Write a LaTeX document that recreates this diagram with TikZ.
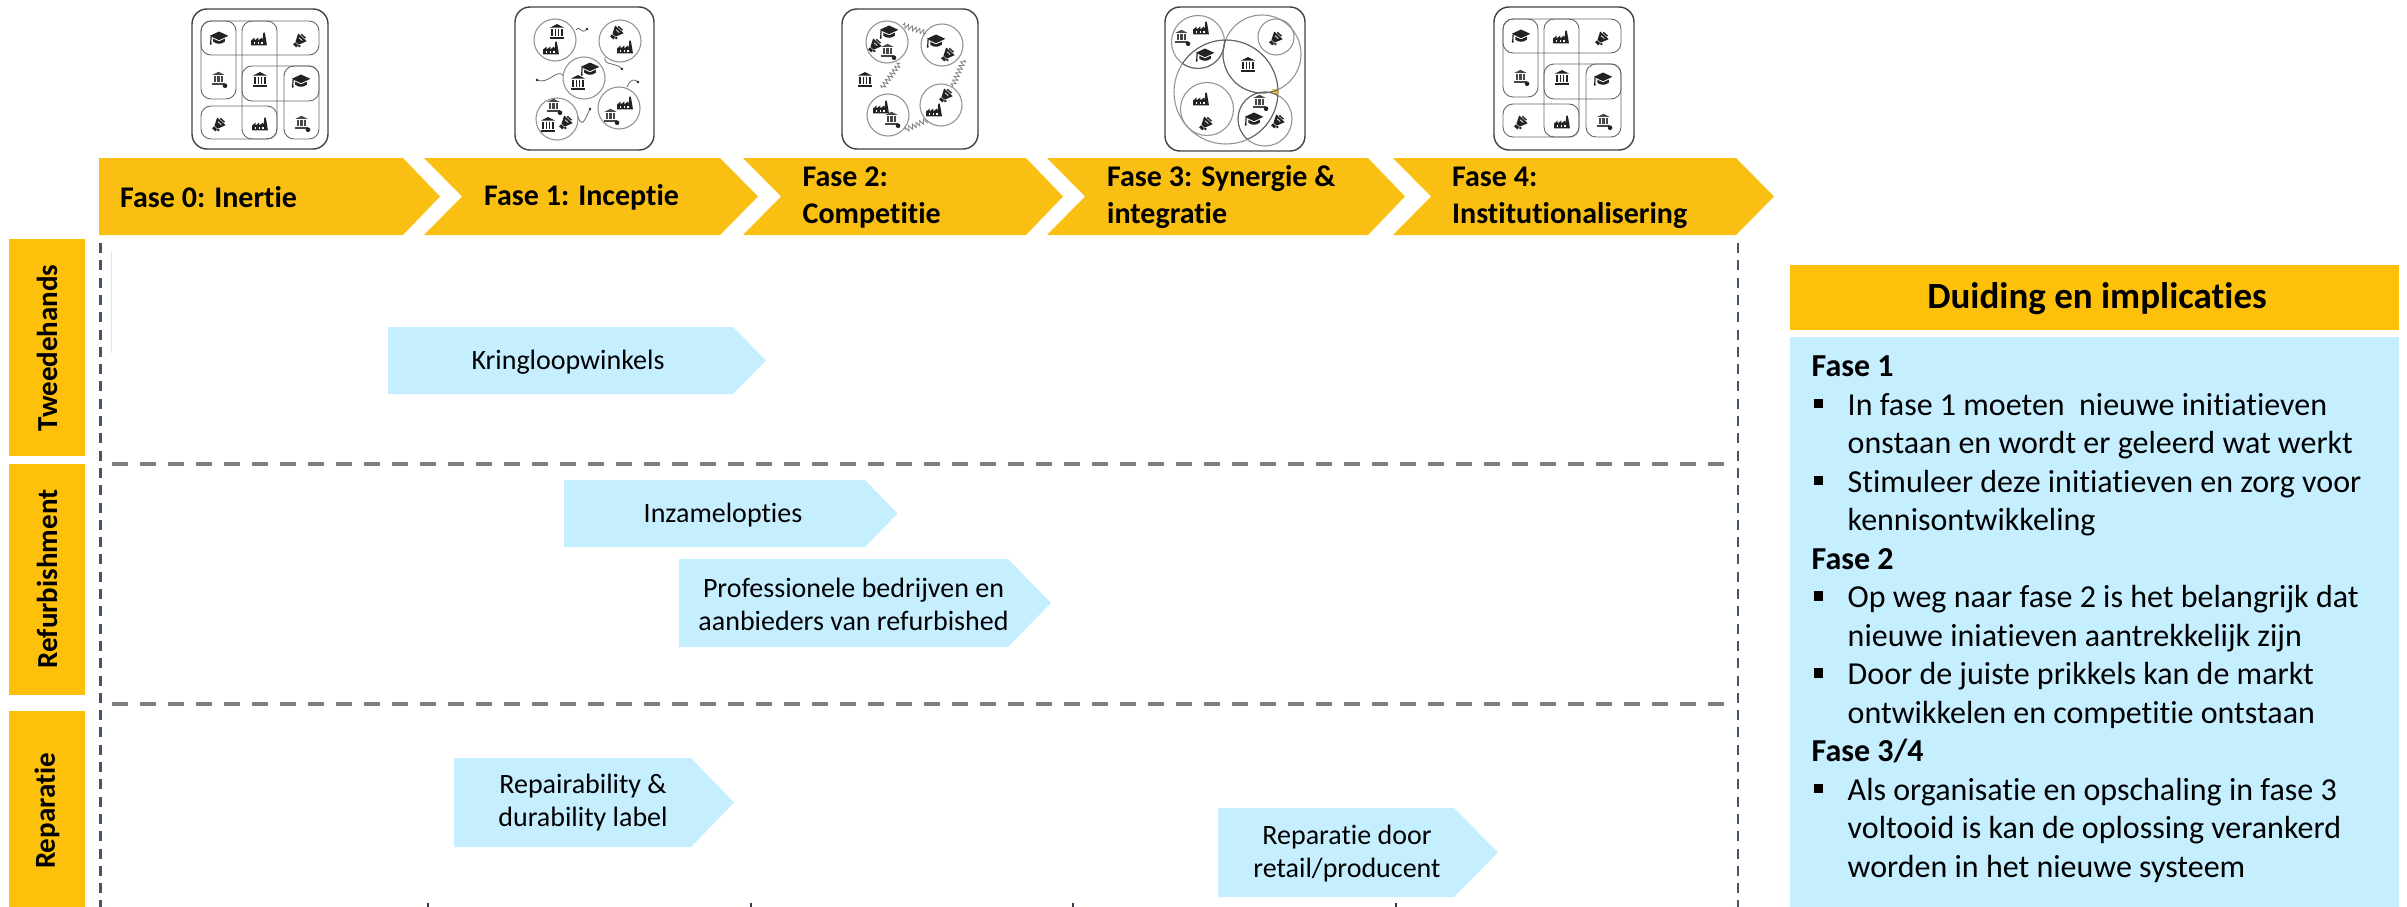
\documentclass[tikz,border=0pt]{standalone}
\usepackage{fontspec}
\setmainfont{Carlito}[Ligatures=NoCommon]
\usetikzlibrary{decorations.pathmorphing}
\definecolor{barY}{HTML}{F9C013}
\definecolor{labY}{HTML}{FDC10C}
\definecolor{lblue}{HTML}{C5EEFF}
\definecolor{slate}{HTML}{44546A}
\definecolor{dashG}{HTML}{808080}
\definecolor{glyph}{HTML}{222222}
\tikzset{
  x=1pt,y=-1pt,
  barfill/.style={fill=barY,draw=none},
  bartext/.style={font=\fontsize{30}{37}\selectfont\bfseries,align=left,anchor=west,inner sep=0pt,text=black},
  labfill/.style={fill=labY,draw=none},
  labtext/.style={font=\fontsize{29}{34}\selectfont\bfseries,rotate=90,inner sep=0pt,text=black},
  bluefill/.style={fill=lblue,draw=none},
  bluetext/.style={font=\fontsize{28}{33}\selectfont,align=center,inner sep=0pt,text=black},
  vdash/.style={draw=slate,line width=2.5pt,dash pattern=on 10pt off 7.3pt},
  hdash/.style={draw=dashG,line width=4pt,dash pattern=on 16pt off 12pt},
  tickm/.style={draw=slate!70!black,line width=1.5pt},
  outer/.style={draw=black!75,line width=1.4pt,rounded corners=15pt},
  inbox/.style={draw=black!60,line width=.9pt,rounded corners=10pt},
  ring/.style={draw=black!42,line width=1.1pt},
  lens/.style={draw=black!62,line width=.9pt},
  wire/.style={draw=black!60,line width=.8pt},
  zig/.style={draw=black!50,line width=.8pt,decorate,decoration={zigzag,amplitude=2.4pt,segment length=4pt}},
  gl/.style={scale=.72},
  gbank/.pic={
    \fill[glyph] (-10,-6) -- (0,-11) -- (10,-6) -- cycle;
    \fill[glyph] (-8,-4.6) rectangle (-5,6);
    \fill[glyph] (-3,-4.6) rectangle (-.8,6);
    \fill[glyph] (.8,-4.6) rectangle (3,6);
    \fill[glyph] (5,-4.6) rectangle (8,6);
    \fill[glyph] (-10,7) rectangle (10,10);
  },
  gbankp/.pic={
    \begin{scope}[shift={(-2,-2)},scale=.85]
    \fill[black!72] (-10,-6) -- (0,-11) -- (10,-6) -- cycle;
    \fill[black!72] (-8,-4.6) rectangle (-4.5,6);
    \fill[black!72] (-2,-4.6) rectangle (2,6);
    \fill[black!72] (4.5,-4.6) rectangle (8,6);
    \fill[black!72] (-10,7) rectangle (10,10);
    \end{scope}
    \fill[glyph] (7,8) circle (3.2);
  },
  gfactory/.pic={
    \fill[glyph] (-11,9) -- (-11,2) -- (-6,-2) -- (-6,2) -- (-1,-2) -- (-1,2) -- (4,-2) -- (5,2) -- (6,-9) -- (8,-9) -- (10,2) -- (11,9) -- cycle;
    \fill[white] (-7,4) rectangle (-5,6.5);
    \fill[white] (-2,4) rectangle (0,6.5);
    \fill[white] (3,4) rectangle (5,6.5);
  },
  ghat/.pic={
    \fill[glyph] (-13,-3) -- (0,-9) -- (13,-3) -- (0,3) -- cycle;
    \fill[glyph] (-8,1) -- (0,4.6) -- (8,1) -- (8,5) .. controls (4,9) and (-4,9) .. (-8,5) -- cycle;
    \draw[glyph,line width=1.2pt] (-11,-2) -- (-11.5,7);
    \fill[glyph] (-11.5,8) circle (1.6);
  },
  gmega/.pic={
    \begin{scope}[rotate=48]
    \fill[glyph] (-6,-3) -- (5,-8) -- (5,8) -- (-6,3) -- cycle;
    \fill[white] (1,-3) rectangle (2,3);
    \fill[glyph] (6,-4) rectangle (8,4);
    \fill[glyph] (-11,-3) rectangle (-7,3);
    \fill[glyph] (-7,5) circle (2);
    \end{scope}
  },
  griddraw/.pic={
    \draw[inbox] (9,12) rectangle (127,46);
    \draw[inbox] (9,12) rectangle (44,90);
    \draw[inbox] (50,12) rectangle (85,130);
    \draw[inbox] (50,57) rectangle (127,92);
    \draw[inbox] (92,57) rectangle (127,130);
    \draw[inbox] (9,97) rectangle (85,130);
    \pic[gl] at (27,29) {ghat};
    \pic[gl] at (67,30) {gfactory};
    \pic[gl] at (108,31) {gmega};
    \pic[gl] at (28,71) {gbankp};
    \pic[gl] at (68,71) {gbank};
    \pic[gl] at (109,72) {ghat};
    \pic[gl] at (27,115) {gmega};
    \pic[gl] at (68,115) {gfactory};
    \pic[gl] at (111,115) {gbankp};
  },
}
\begin{document}
\begin{tikzpicture}
\useasboundingbox (0,0) rectangle (2407,907);
% phase bars
\fill[barfill] (99,158) -- (403,158) -- (440,196.5) -- (403,235) -- (99,235) -- cycle;
\fill[barfill] (424,158) -- (720,158) -- (758,196.5) -- (720,235) -- (424,235) -- (462,196.5) -- cycle;
\fill[barfill] (743,158) -- (1026,158) -- (1063,196.5) -- (1026,235) -- (743,235) -- (781,196.5) -- cycle;
\fill[barfill] (1047,158) -- (1368,158) -- (1405,196.5) -- (1368,235) -- (1047,235) -- (1085,196.5) -- cycle;
\fill[barfill] (1393,158) -- (1736,158) -- (1774,196.5) -- (1736,235) -- (1393,235) -- (1431,196.5) -- cycle;
\node[bartext] (f0) at (120,197) {Fase 0: Inertie};
\node[bartext] (f1) at (484,197) {Fase 1: Inceptie};
\node[bartext] (f2) at (802.5,197.5) {Fase 2:\\Competitie};
\node[bartext] (f3) at (1107,197.5) {Fase 3: Synergie \&\\integratie};
\node[bartext] (f4) at (1452,197.5) {Fase 4:\\Institutionalisering};
% category labels
\fill[labfill] (9,239) rectangle (85,456);
\fill[labfill] (9,464) rectangle (85,695);
\fill[labfill] (9,711) rectangle (85,907);
\node[labtext] (c1) at (47,348) {Tweedehands};
\node[labtext] (c2) at (47,579) {Refurbishment};
\node[labtext] (c3) at (47,811) {Reparatie};
% grid lines
\coordinate (vl1) at (100.5,243);
\coordinate (vl2) at (100.5,907);
\coordinate (vr1) at (1738,243);
\coordinate (vr2) at (1738,907);
\draw[vdash] (vl1) -- (vl2);
\draw[vdash] (vr1) -- (vr2);
\coordinate (h1a) at (112,464);
\coordinate (h1b) at (1727,464);
\coordinate (h2a) at (112,704);
\coordinate (h2b) at (1727,704);
\draw[hdash] (h1a) -- (h1b);
\draw[hdash] (h2a) -- (h2b);
\foreach \tx in {428,751,1073,1396} \draw[tickm] (\tx,903) -- (\tx,907);
\fill[lblue] (110.5,252) rectangle (112,353);
% blue arrows
\fill[bluefill] (388,327) -- (733,327) -- (766,360.5) -- (733,394) -- (388,394) -- cycle;
\fill[bluefill] (564,480) -- (865,480) -- (897.5,513.5) -- (865,547) -- (564,547) -- cycle;
\fill[bluefill] (679,559) -- (1008,559) -- (1051,603) -- (1008,647) -- (679,647) -- cycle;
\fill[bluefill] (454,758) -- (691,758) -- (734,802.5) -- (691,847) -- (454,847) -- cycle;
\fill[bluefill] (1218,808) -- (1454,808) -- (1498,852.5) -- (1454,897) -- (1218,897) -- cycle;
\node[bluetext] (a1) at (568,362) {Kringloopwinkels};
\node[bluetext] (a2) at (723,515) {Inzamelopties};
\node[bluetext] (a3) at (853.5,604) {Professionele bedrijven en\\aanbieders van refurbished};
\node[bluetext] (a4) at (583,803) {Repairability \&\\durability label};
\node[bluetext] (a5) at (1347,854) {Reparatie door\\retail/producent};
% right panel
\fill[labfill] (1790,265) rectangle (2399,330);
\fill[bluefill] (1790,337) rectangle (2399,907);
\node[font=\fontsize{37}{40}\selectfont\bfseries,inner sep=0pt] (ph) at (2097,299) {Duiding en implicaties};
\newcommand{\bl}{\makebox[36pt][l]{\hspace{2pt}\rule[7pt]{9.5pt}{9.5pt}}}
\newcommand{\ind}{\hspace{36pt}}
\node[font=\fontsize{32}{38.5}\selectfont,align=left,anchor=north west,inner sep=0pt] (pt) at (1811.5,356) {%
\textbf{Fase 1}\\
\bl In fase 1 moeten\ \ nieuwe initiatieven\\
\ind onstaan en wordt er geleerd wat werkt\\
\bl Stimuleer deze initiatieven en zorg voor\\
\ind kennisontwikkeling\\
\textbf{Fase 2}\\
\bl Op weg naar fase 2 is het belangrijk dat\\
\ind nieuwe iniatieven aantrekkelijk zijn\\
\bl Door de juiste prikkels kan de markt\\
\ind ontwikkelen en competitie ontstaan\\
\textbf{Fase 3/4}\\
\bl Als organisatie en opschaling in fase 3\\
\ind voltooid is kan de oplossing verankerd\\
\ind worden in het nieuwe systeem};
% icon 1
\draw[outer] (192,9) rectangle (328,149);
\pic at (192,9) {griddraw};
% icon 5
\draw[outer] (1494,7) rectangle (1634,150);
\begin{scope}[shift={(1494,7)},xscale=1.03,yscale=1.02]
\pic at (0,0) {griddraw};
\end{scope}
% icon 2
\draw[outer] (515,7) rectangle (654,150);
\foreach \cx/\cy in {555/40,620/41,584/78,557/119,619/108} \draw[ring] (\cx,\cy) circle (21);
\draw[wire] (576,30) .. controls (580,24) and (581,36) .. (587,29);
\fill[glyph] (587,29) circle (1.3);
\draw[wire] (605,57) .. controls (603,66) and (616,62) .. (622,69);
\fill[glyph] (622,69) circle (1.3);
\draw[wire] (563,75) .. controls (556,69) and (548,85) .. (537,80);
\fill[glyph] (537,80) circle (1.3);
\draw[wire] (627,87) .. controls (630,80) and (634,78) .. (638,82);
\fill[glyph] (638,82) circle (1.3);
\draw[wire] (578,117) .. controls (583,130) and (586,116) .. (590,109);
\fill[glyph] (590,109) circle (1.3);
\pic[gl] at (557,32) {gbank};
\pic[gl] at (551,48) {gfactory};
\pic[gl] at (617,32) {gmega};
\pic[gl] at (625,47) {gfactory};
\pic[gl] at (590,69) {ghat};
\pic[gl] at (578,83) {gbank};
\pic[gl] at (555,107) {gbankp};
\pic[gl] at (548,125) {gbank};
\pic[gl] at (566,122) {gmega};
\pic[gl] at (625,103) {gfactory};
\pic[gl] at (612,117) {gbankp};
% icon 3
\draw[outer] (842,9) rectangle (978,149);
\foreach \cx/\cy in {887/42,942/45,888/115,941/105} \draw[ring] (\cx,\cy) circle (21);
\draw[zig] (903,25) -- (926,33);
\draw[zig] (964,60) -- (952,87);
\draw[zig] (927,120) -- (905,130);
\draw[zig] (882,88) -- (900,63);
\pic[gl] at (889,32) {ghat};
\pic[gl] at (875,45) {gmega};
\pic[gl] at (889,52) {gbankp};
\pic[gl] at (936,41) {ghat};
\pic[gl] at (948,54) {gmega};
\pic[gl] at (865,80) {gbank};
\pic[gl] at (946,95) {gmega};
\pic[gl] at (934,110) {gfactory};
\pic[gl] at (881,107) {gfactory};
\pic[gl] at (893,120) {gbankp};
% icon 4
\draw[outer] (1165,7) rectangle (1305,151);
\fill[barY] (1272,89) -- (1279,90) -- (1277,97) -- cycle;
\draw[ring] (1198,42) circle (26.5);
\draw[ring] (1262,54) circle (39);
\draw[ring] (1276,37) circle (18);
\draw[ring] (1226,92) circle (52);
\draw[ring] (1207,109) circle (26.5);
\draw[ring] (1265,119) circle (27);
\begin{scope}
\clip (1226,92) circle (52);
\draw[lens] (1262,54) circle (39);
\draw[lens] (1198,42) circle (26.5);
\draw[lens] (1265,119) circle (27);
\end{scope}
\begin{scope}
\clip (1262,54) circle (39);
\draw[lens] (1226,92) circle (52);
\end{scope}
\begin{scope}
\clip (1198,42) circle (26.5);
\draw[lens] (1226,92) circle (52);
\end{scope}
\begin{scope}
\clip (1265,119) circle (27);
\draw[lens] (1226,92) circle (52);
\end{scope}
\pic[gl] at (1201,28) {gfactory};
\pic[gl] at (1183,38) {gbankp};
\pic[gl] at (1205,55) {ghat};
\pic[gl] at (1276,38) {gmega};
\pic[gl] at (1248,65) {gbank};
\pic[gl] at (1201,99) {gfactory};
\pic[gl] at (1206,123) {gmega};
\pic[gl] at (1261,103) {gbankp};
\pic[gl] at (1254,119) {ghat};
\pic[gl] at (1278,121) {gmega};
\end{tikzpicture}
\end{document}
